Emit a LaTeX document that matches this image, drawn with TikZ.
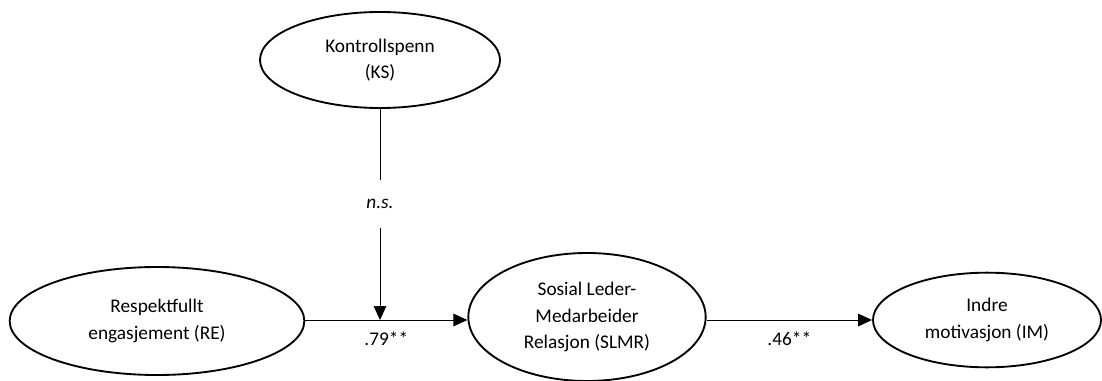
\documentclass[tikz,border=0pt]{standalone}
\usepackage{fontspec}
\setmainfont{Carlito}
\usetikzlibrary{shapes.geometric,arrows.meta}
\tikzset{
    latent/.style={ellipse,draw,line width=1.4pt,align=center,inner sep=0pt,
        font=\fontsize{14.5}{20}\selectfont},
    path/.style={line width=0.7pt,-{Triangle[length=10.5pt,width=9.5pt]}},
    coef/.style={font=\fontsize{14.5}{20}\selectfont}
}
\begin{document}
\begin{tikzpicture}[x=0.75pt,y=-0.75pt]
\useasboundingbox (0,0) rectangle (1102,381);
\node[latent,minimum width=180pt,minimum height=72pt] (KS) at (380,60) {Kontrollspenn\\(KS)};
\node[latent,minimum width=221pt,minimum height=81pt] (RE) at (157,321) {Respektfullt\\engasjement (RE)};
\node[latent,minimum width=178pt,minimum height=96pt] (SLMR) at (587,317) {Sosial Leder-\\Medarbeider\\Relasjon (SLMR)};
\node[latent,minimum width=171pt,minimum height=71pt] (IM) at (987,320) {Indre\\motivasjon (IM)};

% main paths
\draw[path] (RE.east |- 0,320) -- node[coef,midway,below=5pt] (b1) {.79**} (SLMR.west |- 0,320);
\draw[path] (SLMR.east |- 0,320) -- node[coef,midway,below=5pt] (b2) {.46**} (IM.west |- 0,320);

% moderation
\coordinate (m) at (380,320);
\node[coef,minimum height=35pt,inner sep=0pt] (ns) at (380,204) {\textit{n.s.}};
\draw[line width=0.7pt] (KS.south) -- (ns.north);
\draw[path] (ns.south) -- (m);
\end{tikzpicture}
\end{document}
